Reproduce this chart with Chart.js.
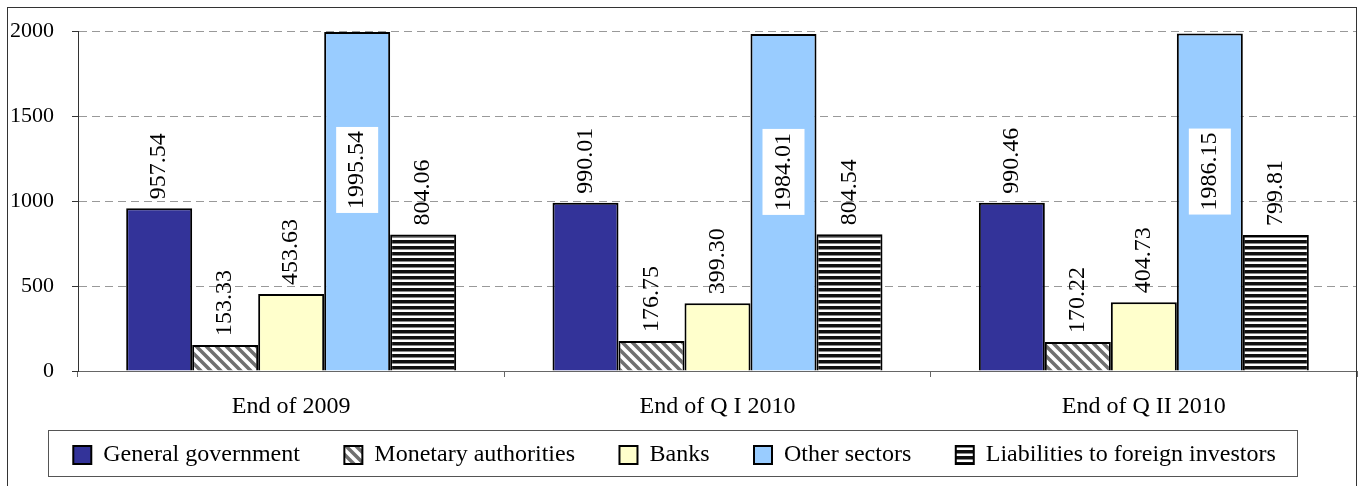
<!DOCTYPE html>
<html>
<head>
<meta charset="utf-8">
<title>External debt by sector</title>
<script src="https://cdn.jsdelivr.net/npm/chart.js@4.4.1/dist/chart.umd.min.js"></script>
<style>
  html, body { margin: 0; padding: 0; background: #fff; }
  #wrap { width: 1364px; height: 486px; }
</style>
</head>
<body>
<div id="wrap"><canvas id="debtChart" width="1364" height="486"></canvas></div>
<script>
const categories = ['End of 2009', 'End of Q I 2010', 'End of Q II 2010'];
const seriesNames = ['General government', 'Monetary authorities', 'Banks', 'Other sectors', 'Liabilities to foreign investors'];
const generalGov = [957.54, 990.01, 990.46];
const monetaryAuth = [153.33, 176.75, 170.22];
const banks = [453.63, 399.30, 404.73];
const otherSectors = [1995.54, 1984.01, 1986.15];
const foreignLiab = [804.06, 804.54, 799.81];
const yTicks = [0, 500, 1000, 1500, 2000];

const serif = "'Liberation Serif', 'Times New Roman', serif";

// hatch fills
function diagonalPattern() {
    const s = 10;
    const c = document.createElement('canvas');
    c.width = s; c.height = s;
    const g = c.getContext('2d');
    g.fillStyle = '#fff';
    g.fillRect(0, 0, s, s);
    g.strokeStyle = '#707070';
    g.lineWidth = 3.5;
    for (let k = -1; k <= 1; k++) {
        g.beginPath();
        g.moveTo(-1, -1 + k * s);
        g.lineTo(s + 1, s + 1 + k * s);
        g.stroke();
    }
    return g.createPattern(c, 'repeat');
}

function stripePattern() {
    const c = document.createElement('canvas');
    c.width = 6; c.height = 6;
    const g = c.getContext('2d');
    g.fillStyle = '#fff';
    g.fillRect(0, 0, 6, 6);
    g.fillStyle = '#111';
    g.fillRect(0, 0, 6, 3);
    g.fillStyle = '#888';
    g.fillRect(0, 3, 6, 1);
    return g.createPattern(c, 'repeat');
}

const seriesValues = [generalGov, monetaryAuth, banks, otherSectors, foreignLiab];
const fills = ['#333399', diagonalPattern(), '#FFFFCC', '#99CCFF', stripePattern()];

const frameAndLabels = {
    id: 'frameAndLabels',
    afterLayout(chart) {
        // legend padding is shared by both directions, so pull its top up over the axis box
        const lg = chart.legend;
        lg.left -= 4;
        lg.right -= 4;
        lg.top -= 22.5;
    },
    afterDatasetsDraw(chart) {
        const ctx = chart.ctx;
        ctx.save();
        ctx.font = '24px ' + serif;
        chart.data.datasets.forEach((ds, i) => {
            chart.getDatasetMeta(i).data.forEach((bar, j) => {
                const txt = ds.data[j].toFixed(2);
                ctx.save();
                if (i === 3) {
                    // label sits inside the tall bar on a white box
                    ctx.translate(bar.x, bar.y + 138);
                    ctx.rotate(-Math.PI / 2);
                    ctx.fillStyle = '#fff';
                    ctx.fillRect(-43, -21, 86, 42);
                    ctx.textAlign = 'center';
                } else {
                    ctx.translate(bar.x, bar.y - 9);
                    ctx.rotate(-Math.PI / 2);
                    ctx.textAlign = 'left';
                }
                ctx.fillStyle = '#000';
                ctx.textBaseline = 'middle';
                ctx.fillText(txt, 0, 0);
                ctx.restore();
            });
        });
        ctx.restore();
    },
    afterDraw(chart) {
        const ctx = chart.ctx;
        ctx.save();
        ctx.lineWidth = 1;
        ctx.strokeStyle = '#333';
        ctx.strokeRect(7.5, 7.5, 1349, 520);
        ctx.strokeStyle = '#555';
        ctx.strokeRect(48.5, 430.5, 1249, 46);
        ctx.restore();
    }
};

new Chart(document.getElementById('debtChart'), {
    type: 'bar',
    data: {
        labels: categories,
        datasets: seriesNames.map((name, i) => ({
            label: name,
            data: seriesValues[i],
            backgroundColor: fills[i],
            borderColor: '#000',
            borderWidth: 2,
            categoryPercentage: 0.774,
            barPercentage: 1
        }))
    },
    options: {
        responsive: false,
        animation: false,
        layout: { padding: { left: 0, right: 7, top: 26, bottom: 9 } },
        scales: {
            x: {
                grid: { drawOnChartArea: false, drawTicks: true, tickLength: 6, tickColor: '#666', offset: true },
                border: { color: '#666', width: 1 },
                ticks: { font: { family: serif, size: 24 }, color: '#000', padding: 15, maxRotation: 0, autoSkip: false },
                afterFit: s => { s.height = 50; }
            },
            y: {
                min: 0,
                max: 2000,
                afterBuildTicks: s => { s.ticks = yTicks.map(v => ({ value: v })); },
                grid: { color: '#999', lineWidth: 1, tickLength: 6, tickColor: '#333', tickBorderDash: [] },
                border: { color: '#333', width: 1, dash: [8, 5] },
                ticks: { font: { family: serif, size: 22 }, color: '#000', padding: 18, callback: v => String(v) },
                afterFit: s => { s.width = 78; }
            }
        },
        plugins: {
            legend: {
                position: 'bottom',
                maxHeight: 56,
                labels: {
                    font: { family: serif, size: 24 },
                    color: '#000',
                    boxWidth: 18,
                    boxHeight: 18,
                    padding: 44.5
                }
            },
            tooltip: { enabled: false }
        }
    },
    plugins: [frameAndLabels]
});
</script>
</body>
</html>
